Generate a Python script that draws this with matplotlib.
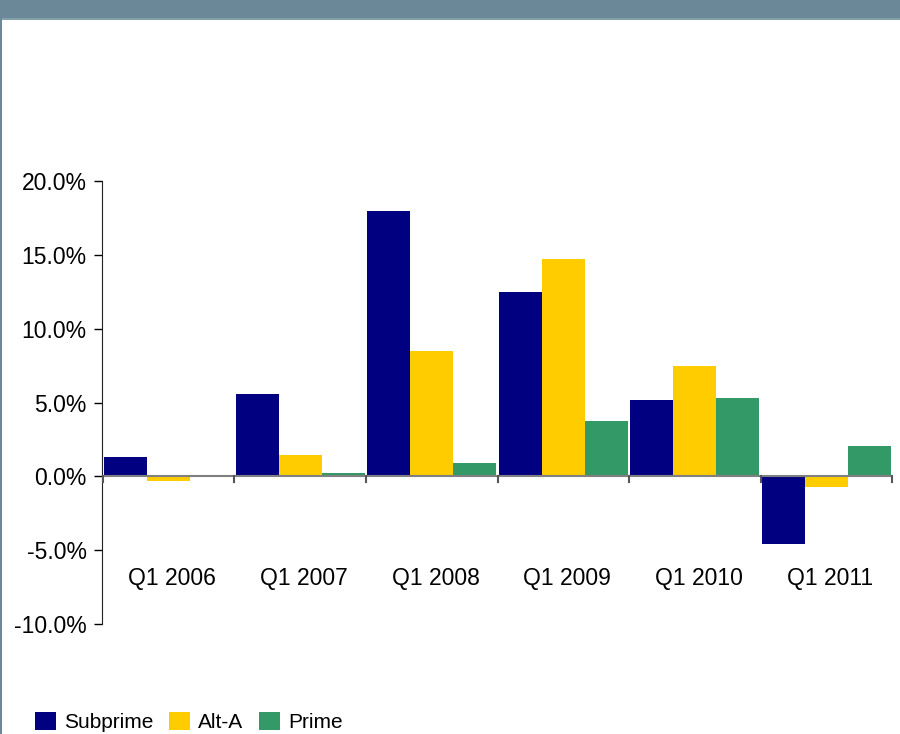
import numpy as np
import matplotlib
matplotlib.use("Agg")
import matplotlib.pyplot as plt
from matplotlib.patches import Rectangle

# data (percent)
quarters = ["Q1 2006", "Q1 2007", "Q1 2008", "Q1 2009", "Q1 2010", "Q1 2011"]
subprime = [1.3, 5.6, 18.0, 12.5, 5.15, -4.6]
alt_a = [-0.32, 1.42, 8.47, 14.7, 7.45, -0.75]
prime = [0.0, 0.2, 0.88, 3.73, 5.3, 2.03]
yticks = [-10, -5, 0, 5, 10, 15, 20]

c_sub = "#000080"
c_alt = "#FFCC00"
c_pri = "#339966"

fig = plt.figure(figsize=(9, 7.34), dpi=100)
fig.patch.set_facecolor("white")

# header bar + left border
fig.add_artist(Rectangle((0, 1 - 18 / 734), 1, 18 / 734, transform=fig.transFigure,
                         facecolor="#6a8898", edgecolor="none"))
fig.add_artist(Rectangle((0, 1 - 20 / 734), 1, 2 / 734, transform=fig.transFigure,
                         facecolor="#86a0aa", edgecolor="none"))
fig.add_artist(Rectangle((0, 0), 2 / 900, 1 - 18 / 734, transform=fig.transFigure,
                         facecolor="#6a8898", edgecolor="none"))

ax = fig.add_axes([102 / 900, 1 - 624 / 734, (893 - 102) / 900, (624 - 181) / 734])

x = np.arange(len(quarters))
w = 0.327
ax.bar(x - w, subprime, w, color=c_sub, label="Subprime", zorder=2)
ax.bar(x, alt_a, w, color=c_alt, label="Alt-A", zorder=2)
ax.bar(x + w, prime, w, color=c_pri, label="Prime", zorder=2)

ax.set_xlim(-0.5 - 0.005, len(quarters) - 0.5 + 0.005)
ax.set_ylim(-10, 20)
ax.set_yticks(yticks)
ax.set_yticklabels([f"{v:.1f}%" for v in yticks], fontsize=16.5, family="Liberation Sans")
ax.tick_params(axis="y", length=6, width=1, direction="out", pad=5)
ax.set_xticks([])

for s in ["top", "right", "bottom"]:
    ax.spines[s].set_visible(False)
ax.spines["left"].set_color("#222222")

# zero line with group dividers
ax.axhline(0, color="#808080", lw=1.5, zorder=3)
for b in np.arange(len(quarters) + 1) - 0.5:
    ax.plot([b, b], [0, -0.35], color="#555555", lw=1.5, zorder=3, clip_on=False)

for i, q in enumerate(quarters):
    ax.text(i + 0.03, -6.9, q, ha="center", va="center", fontsize=16.5, family="Liberation Sans")

leg = fig.legend(loc="lower left", bbox_to_anchor=(16 / 900, -17 / 734), ncol=3, frameon=False,
                 prop={"family": "Liberation Sans", "size": 15}, handlelength=1.0,
                 handleheight=1.0, handletextpad=0.4, columnspacing=0.75)

fig.savefig("out.png", dpi=100)
